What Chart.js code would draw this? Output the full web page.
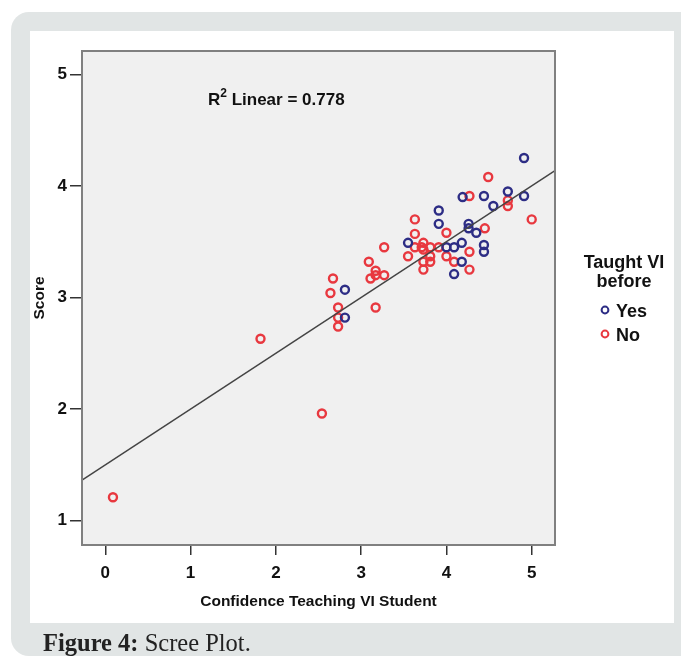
<!DOCTYPE html>
<html>
<head>
<meta charset="utf-8">
<script src="https://cdn.jsdelivr.net/npm/chart.js@4/dist/chart.umd.min.js"></script>
<style>
  html, body { margin: 0; padding: 0; background: #fff; }
  #page { position: relative; width: 681px; height: 659px; overflow: hidden; }
  #card { position: absolute; left: 11px; top: 12px; width: 680px; height: 644px;
          background: #e1e5e5; border-radius: 18px 0 0 18px; }
  #panel { position: absolute; left: 30px; top: 31px; width: 644px; height: 592px; background: #fff; }
  #chart { position: absolute; left: 0; top: 0; }
  #caption { position: absolute; left: 43px; top: 629px; font-family: "Liberation Serif", serif;
             font-size: 24.5px; line-height: 28px; color: #222; white-space: nowrap; }
  #caption b { font-weight: bold; }
</style>
</head>
<body>
<div id="page">
  <div id="card"></div>
  <div id="panel"></div>
  <canvas id="chart" width="681" height="659"></canvas>
  <div id="caption"><b>Figure 4:</b> Scree Plot.</div>
</div>
<script>
/* =========================================================
   DATA
========================================================= */
const xTicks = [0, 1, 2, 3, 4, 5];
const yTicks = [1, 2, 3, 4, 5];

// Taught VI before = Yes
const yesX = [4.91, 4.19, 4.44, 4.72, 4.91, 4.55, 3.91, 3.91, 4.26, 4.26,
              4.35, 3.55, 4.18, 4.00, 4.09, 4.44, 4.44, 4.18, 4.09, 2.81, 2.81];
const yesY = [4.25, 3.90, 3.91, 3.95, 3.91, 3.82, 3.78, 3.66, 3.66, 3.62,
              3.58, 3.49, 3.49, 3.45, 3.45, 3.47, 3.41, 3.32, 3.21, 3.07, 2.82];

// Taught VI before = No
const noX = [4.49, 4.27, 4.72, 4.72, 3.63, 5.00, 3.63, 4.00, 4.45, 3.73,
             3.63, 3.71, 3.73, 3.81, 3.91, 3.55, 3.81, 3.73, 3.81, 4.00,
             4.09, 4.27, 3.73, 4.27, 3.27, 3.27, 3.09, 3.17, 3.17, 3.11,
             2.67, 2.64, 2.73, 3.17, 2.73, 2.73, 1.82, 2.54, 0.09];
const noY = [4.08, 3.91, 3.87, 3.82, 3.70, 3.70, 3.57, 3.58, 3.62, 3.49,
             3.45, 3.45, 3.43, 3.45, 3.45, 3.37, 3.37, 3.32, 3.32, 3.37,
             3.32, 3.41, 3.25, 3.25, 3.45, 3.20, 3.32, 3.24, 3.20, 3.17,
             3.17, 3.04, 2.91, 2.91, 2.82, 2.74, 2.63, 1.96, 1.21];

// Linear fit, R2 = 0.778
const fitIntercept = 1.50;
const fitSlope = 0.50;
const rSquared = "0.778";

const X_MIN = -0.273, X_MAX = 5.273;
const Y_MIN = 0.782, Y_MAX = 5.209;

/* =========================================================
   HELPERS
========================================================= */
const toPoints = (xs, ys) => xs.map((x, i) => ({ x, y: ys[i] }));
const fitLine = [X_MIN, X_MAX].map(x => ({ x, y: fitIntercept + fitSlope * x }));

const BLUE = "#2d2d85";
const RED  = "#e8383f";
const FONT = "'Liberation Sans', Arial, sans-serif";

// plot background + box
const plotBox = {
  id: "plotBox",
  beforeDatasetsDraw(chart) {
    const { ctx, chartArea: a } = chart;
    ctx.save();
    ctx.fillStyle = "#f0f0f0";
    ctx.fillRect(a.left, a.top, a.right - a.left, a.bottom - a.top);
    ctx.restore();
  },
  afterDatasetsDraw(chart) {
    const { ctx, chartArea: a } = chart;
    ctx.save();
    ctx.strokeStyle = "#808080";
    ctx.lineWidth = 2;
    ctx.strokeRect(a.left, a.top, a.right - a.left, a.bottom - a.top);
    ctx.restore();
  }
};

// R2 label and legend
const annotations = {
  id: "annotations",
  afterDraw(chart) {
    const { ctx } = chart;
    ctx.save();
    ctx.fillStyle = "#111";
    ctx.textBaseline = "alphabetic";

    // R2 Linear = ...
    ctx.font = "bold 17px " + FONT;
    ctx.textAlign = "left";
    let x = 208;
    ctx.fillText("R", x, 105);
    x += ctx.measureText("R").width;
    ctx.font = "bold 12px " + FONT;
    ctx.fillText("2", x, 97);
    x += ctx.measureText("2").width;
    ctx.font = "bold 17px " + FONT;
    ctx.fillText(" Linear = " + rSquared, x, 105);

    // legend
    ctx.font = "bold 18px " + FONT;
    ctx.textAlign = "center";
    ctx.fillText("Taught VI", 624, 268);
    ctx.fillText("before", 624, 287);

    const items = [["Yes", BLUE, 310], ["No", RED, 334]];
    ctx.textAlign = "left";
    items.forEach(([label, color, y]) => {
      ctx.beginPath();
      ctx.arc(605, y, 3.4, 0, Math.PI * 2);
      ctx.strokeStyle = color;
      ctx.lineWidth = 2;
      ctx.stroke();
      ctx.fillStyle = "#111";
      ctx.fillText(label, 616, y + 7);
    });
    ctx.restore();
  }
};

/* =========================================================
   CHART
========================================================= */
Chart.defaults.font.family = FONT;
Chart.defaults.color = "#111";

new Chart(document.getElementById("chart"), {
  type: "scatter",
  data: {
    datasets: [
      {
        type: "line",
        label: "Fit",
        data: fitLine,
        borderColor: "#444",
        borderWidth: 1.5,
        pointRadius: 0,
        fill: false
      },
      {
        label: "Yes",
        data: toPoints(yesX, yesY),
        borderColor: BLUE,
        backgroundColor: "transparent",
        borderWidth: 2.4,
        pointRadius: 4
      },
      {
        label: "No",
        data: toPoints(noX, noY),
        borderColor: RED,
        backgroundColor: "transparent",
        borderWidth: 2.4,
        pointRadius: 4
      }
    ]
  },
  options: {
    responsive: false,
    animation: false,
    events: [],
    layout: { padding: { left: 0, top: 51, right: 126, bottom: 0 } },
    plugins: { legend: { display: false }, tooltip: { enabled: false } },
    scales: {
      x: {
        type: "linear",
        min: X_MIN,
        max: X_MAX,
        afterFit: s => { s.height = 114; },
        afterBuildTicks: s => { s.ticks = xTicks.map(v => ({ value: v })); },
        grid: { drawOnChartArea: false, drawTicks: true, tickLength: 10, color: "#333", lineWidth: 1.5 },
        border: { display: false },
        ticks: { font: { size: 17, weight: "bold" }, padding: 8, maxRotation: 0 },
        title: {
          display: true,
          text: "Confidence Teaching VI Student",
          font: { size: 15.5, weight: "bold" },
          padding: { bottom: 48 }
        }
      },
      y: {
        type: "linear",
        min: Y_MIN,
        max: Y_MAX,
        afterFit: s => { s.width = 82; },
        afterBuildTicks: s => { s.ticks = yTicks.map(v => ({ value: v })); },
        grid: { drawOnChartArea: false, drawTicks: true, tickLength: 12, color: "#333", lineWidth: 1.5 },
        border: { display: false },
        ticks: { font: { size: 17, weight: "bold" }, padding: 3 },
        title: {
          display: true,
          text: "Score",
          font: { size: 15.5, weight: "bold" },
          padding: { top: 30 }
        }
      }
    }
  },
  plugins: [plotBox, annotations]
});
</script>
</body>
</html>
